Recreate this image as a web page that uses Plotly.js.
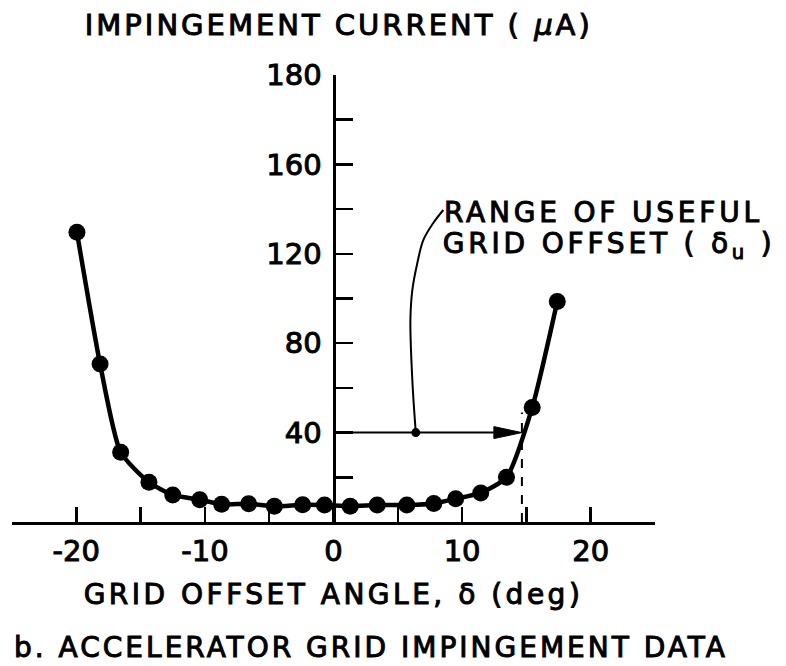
<!DOCTYPE html>
<html><head><meta charset="utf-8">
<script src="https://cdn.plot.ly/plotly-3.0.1.min.js"></script>
<style>
html,body{margin:0;padding:0;background:#fff;}
#chart{width:786px;height:666px;}
.gtitle, .annotation-text { letter-spacing: 3px; }
.xtitle { letter-spacing: 3.5px; }
.annotation[data-index="0"] .annotation-text, .annotation[data-index="1"] .annotation-text { letter-spacing: 3.8px; }
.gtitle, .xtitle, .annotation-text, .xtick text, .ytick text { stroke: #000 !important; stroke-width: 1px !important; }
</style></head><body><div id="chart"></div>
<script>
// Grid offset angle δ (deg) and impingement current (µA)
const offsetAngle = [-19.95, -18.15, -16.55, -14.35, -12.5, -10.4, -8.7, -6.6, -4.6, -2.4, -0.7, 1.3, 3.4, 5.7, 7.8, 9.5, 11.45, 13.45, 15.45, 17.4];
const impingement = [129.6, 70.7, 31.2, 17.8, 12.1, 10.0, 7.9, 8.2, 7.0, 7.7, 7.6, 7.0, 7.6, 7.6, 8.3, 10.4, 13.0, 20.0, 51.2, 98.7];

const xTickVals = [-20, -10, 0, 10, 20];
const xTickText = ['-20', '-10', '0', '10', '20'];
const xMinorVals = [-25, -15, -5, 5, 15, 25];
const yTickVals = [40, 80, 120, 160, 200];
const yTickText = ['40', '80', '120', '160', '180'];
const yMinorVals = [20, 60, 100, 140, 180];

// Range of useful grid offset annotation
const usefulOffset = 14.65;   // δu (deg)
const arrowLevel = 40;        // µA
const dashTop = 49;
const leaderX = [6.4, 6.13, 5.98, 6.13, 6.52, 6.99, 7.76, 8.54];
const leaderY = [40, 63.5, 90.4, 103.8, 115.9, 126.2, 133.8, 139.6];

const FONT = 'DejaVu Sans';
const headLen = 2.18, headHalf = 2.68;

const traces = [
  { x: offsetAngle, y: impingement, mode: 'lines+markers', type: 'scatter',
    line: { color: '#000', width: 4.5, shape: 'spline', smoothing: 0.6 },
    marker: { color: '#000', size: 17 }, hoverinfo: 'skip', showlegend: false },
  { x: leaderX, y: leaderY, mode: 'lines', type: 'scatter',
    line: { color: '#000', width: 2, shape: 'spline', smoothing: 1 }, showlegend: false },
  { x: [leaderX[0]], y: [leaderY[0]], mode: 'markers', type: 'scatter',
    marker: { color: '#000', size: 9 }, showlegend: false }
];

const tickFont = { family: FONT, size: 29, color: '#000' };
const textFont = { family: FONT, size: 28, color: '#000' };

const layout = {
  width: 786, height: 666,
  margin: { l: 12, r: 131, t: 75, b: 144 },
  paper_bgcolor: '#fff', plot_bgcolor: '#fff',
  showlegend: false,
  font: { family: FONT, color: '#000' },
  title: { text: 'IMPINGEMENT CURRENT ( <i>μ</i>A)', font: { family: FONT, size: 29, color: '#000' },
           x: 0.431, xanchor: 'center', y: 0.963, yanchor: 'middle' },
  xaxis: {
    range: [-25, 25], showgrid: false, zeroline: false,
    showline: true, linecolor: '#000', linewidth: 3,
    tickmode: 'array', tickvals: xTickVals, ticktext: xTickText,
    ticks: 'inside', ticklen: 15, tickwidth: 2.5, tickcolor: '#000',
    minor: { tickmode: 'array', tickvals: xMinorVals, ticks: 'inside', ticklen: 15, tickwidth: 2.5, tickcolor: '#000', showgrid: false },
    tickfont: tickFont,
    ticklabelstandoff: 1,
    title: { text: 'GRID OFFSET ANGLE, δ (deg)', font: textFont, standoff: 18 }
  },
  yaxis: {
    range: [0, 200], showgrid: false, zeroline: false,
    anchor: 'free', position: 0.5, side: 'left',
    showline: true, linecolor: '#000', linewidth: 3.5,
    tickmode: 'array', tickvals: yTickVals, ticktext: yTickText,
    ticks: 'inside', ticklen: 17, tickwidth: 2.5, tickcolor: '#000',
    minor: { tickmode: 'array', tickvals: yMinorVals, ticks: 'inside', ticklen: 17, tickwidth: 2.5, tickcolor: '#000', showgrid: false },
    tickfont: tickFont,
    ticklabelstandoff: 5
  },
  shapes: [
    { type: 'line', xref: 'x', yref: 'y', x0: 0, y0: arrowLevel, x1: usefulOffset - headLen, y1: arrowLevel,
      line: { color: '#000', width: 2 } },
    { type: 'path', xref: 'x', yref: 'y',
      path: `M ${usefulOffset},${arrowLevel} L ${usefulOffset - headLen},${arrowLevel + headHalf} L ${usefulOffset - headLen},${arrowLevel - headHalf} Z`,
      fillcolor: '#000', line: { color: '#000', width: 1 } },
    { type: 'line', xref: 'x', yref: 'y', x0: usefulOffset, y0: 0, x1: usefulOffset, y1: dashTop,
      line: { color: '#000', width: 2, dash: 'dash' } }
  ],
  annotations: [
    { xref: 'x', yref: 'y', x: 8.93, y: 138.7, xanchor: 'left', yanchor: 'middle', showarrow: false,
      text: 'RANGE OF USEFUL', font: textFont },
    { xref: 'x', yref: 'y', x: 8.93, y: 123.9, xanchor: 'left', yanchor: 'middle', showarrow: false,
      text: 'GRID OFFSET ( δ<sub>u</sub> )', font: textFont },
    { xref: 'paper', yref: 'paper', x: 0, y: -0.28, xanchor: 'left', yanchor: 'middle', showarrow: false,
      text: 'b. ACCELERATOR GRID IMPINGEMENT DATA', font: textFont }
  ]
};

Plotly.newPlot('chart', traces, layout, { staticPlot: true, displayModeBar: false });
</script></body></html>
